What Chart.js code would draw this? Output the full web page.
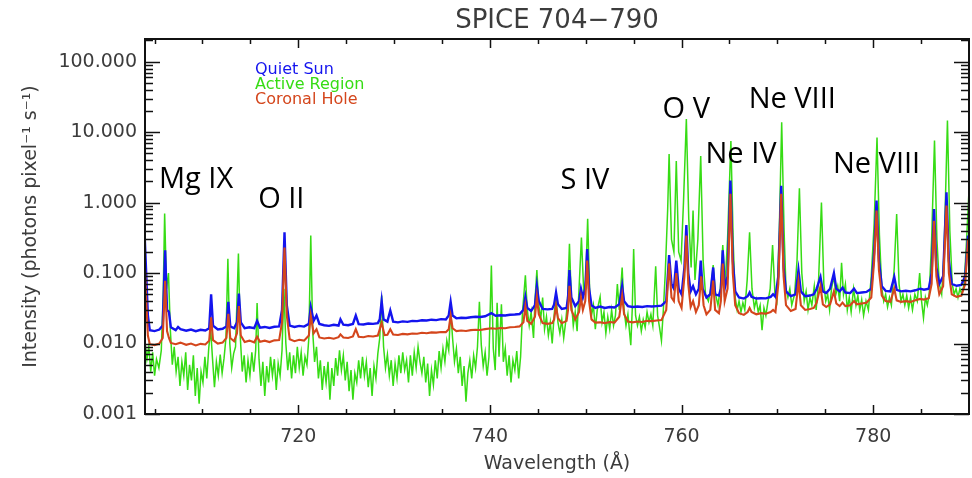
<!DOCTYPE html>
<html>
<head>
<meta charset="utf-8">
<script src="https://cdn.jsdelivr.net/npm/chart.js@4.4.1/dist/chart.umd.min.js"></script>
<style>
  html, body { margin: 0; padding: 0; background: #fff; }
  #wrap { width: 972px; height: 478px; position: relative; }
</style>
</head>
<body>
<div id="wrap"><canvas id="c" width="972" height="478"></canvas></div>
<script>
// ---------------- DATA ----------------
const chartTitle = 'SPICE 704\u2212790';
const xAxisTitle = 'Wavelength (\u00C5)';
const yAxisTitle = 'Intensity (photons pixel\u207B\u00B9 s\u207B\u00B9)';
const seriesNames = ['Quiet Sun', 'Active Region', 'Coronal Hole'];

const xMajorTicks = [720, 740, 760, 780];
const yTickValues = [0.001, 0.01, 0.1, 1, 10, 100];
const yTickLabels = ['0.001', '0.010', '0.100', '1.000', '10.000', '100.000'];

// [wavelength (Å), intensity]
const quietSun = [[703.95,0.38],[704.1,0.12],[704.3,0.025],[704.5,0.0155],[705.0,0.0150],[705.5,0.0158],[705.85,0.018],[706.1,0.21],[706.3,0.03],[706.5,0.028],[706.7,0.017],[707.2,0.0155],[707.45,0.0172],[707.7,0.0160],[708.3,0.0152],[708.8,0.0158],[709.3,0.0150],[709.8,0.0157],[710.3,0.0153],[710.7,0.0165],[710.9,0.050],[711.1,0.018],[711.6,0.0158],[712.1,0.0162],[712.5,0.0175],[712.7,0.039],[712.9,0.0175],[713.3,0.0165],[713.6,0.02],[713.8,0.051],[714.0,0.02],[714.4,0.0165],[714.9,0.0170],[715.4,0.0165],[715.7,0.021],[716.0,0.0168],[716.5,0.0172],[717.0,0.0166],[717.5,0.0173],[718.0,0.0175],[718.3,0.03],[718.56,0.38],[718.8,0.035],[719.1,0.018],[719.6,0.0172],[720.1,0.0178],[720.6,0.0174],[721.1,0.019],[721.3,0.033],[721.6,0.021],[721.9,0.025],[722.2,0.019],[722.7,0.0182],[723.2,0.0178],[723.7,0.0185],[724.2,0.0180],[724.4,0.022],[724.7,0.0185],[725.2,0.0182],[725.7,0.019],[726.0,0.025],[726.3,0.0188],[726.8,0.0186],[727.3,0.0192],[727.8,0.0190],[728.3,0.0195],[728.5,0.022],[728.7,0.040],[728.9,0.022],[729.3,0.0205],[729.6,0.0295],[729.9,0.0205],[730.4,0.0200],[730.9,0.0206],[731.4,0.0203],[731.9,0.0210],[732.4,0.0208],[732.9,0.0214],[733.4,0.0212],[733.9,0.0218],[734.4,0.0215],[734.9,0.0222],[735.4,0.0220],[735.7,0.025],[735.9,0.039],[736.1,0.025],[736.5,0.0228],[737.0,0.0232],[737.5,0.0230],[738.0,0.0236],[738.5,0.0240],[739.0,0.0238],[739.5,0.0244],[740.15,0.027],[740.6,0.0248],[741.1,0.0252],[741.6,0.0250],[742.1,0.0256],[742.6,0.0258],[743.1,0.0262],[743.5,0.030],[743.7,0.046],[743.9,0.032],[744.3,0.029],[744.7,0.035],[744.9,0.066],[745.1,0.04],[745.5,0.031],[746.0,0.0305],[746.5,0.031],[746.7,0.036],[746.9,0.053],[747.1,0.036],[747.5,0.031],[748.0,0.032],[748.15,0.045],[748.3,0.11],[748.5,0.045],[748.9,0.034],[749.3,0.04],[749.5,0.06],[749.7,0.045],[749.95,0.06],[750.15,0.22],[750.35,0.06],[750.6,0.035],[751.0,0.032],[751.5,0.0335],[752.0,0.032],[752.5,0.033],[753.0,0.0325],[753.5,0.036],[753.8,0.066],[754.0,0.04],[754.4,0.034],[754.9,0.033],[755.4,0.0335],[755.9,0.033],[756.4,0.034],[756.9,0.0335],[757.4,0.034],[757.9,0.0345],[758.4,0.04],[758.7,0.18],[758.95,0.07],[759.2,0.06],[759.45,0.15],[759.7,0.06],[760.0,0.05],[760.3,0.12],[760.5,0.48],[760.7,0.1],[760.95,0.055],[761.2,0.065],[761.5,0.05],[761.8,0.06],[762.0,0.15],[762.2,0.06],[762.6,0.045],[763.0,0.05],[763.3,0.12],[763.5,0.05],[763.9,0.048],[764.1,0.06],[764.3,0.21],[764.5,0.06],[764.8,0.09],[765.1,2.05],[765.35,0.15],[765.6,0.055],[766.0,0.045],[766.5,0.0435],[766.9,0.047],[767.1,0.053],[767.3,0.046],[767.8,0.0435],[768.3,0.044],[768.8,0.0438],[769.3,0.046],[769.55,0.05],[769.8,0.046],[770.1,0.09],[770.4,1.74],[770.65,0.12],[770.9,0.055],[771.4,0.047],[771.9,0.05],[772.2,0.11],[772.45,0.055],[772.9,0.047],[773.4,0.048],[773.8,0.05],[774.1,0.06],[774.5,0.088],[774.75,0.055],[775.1,0.052],[775.5,0.06],[775.9,0.10],[776.15,0.06],[776.5,0.055],[776.8,0.062],[777.1,0.053],[777.6,0.052],[778.0,0.06],[778.3,0.052],[778.8,0.053],[779.3,0.054],[779.8,0.06],[780.1,0.2],[780.35,1.07],[780.6,0.15],[780.9,0.065],[781.3,0.056],[781.8,0.055],[782.2,0.088],[782.45,0.058],[782.9,0.055],[783.4,0.056],[783.9,0.055],[784.4,0.057],[784.9,0.06],[785.3,0.058],[785.8,0.06],[786.1,0.1],[786.35,0.81],[786.6,0.12],[786.9,0.07],[787.3,0.09],[787.65,1.4],[787.9,0.15],[788.2,0.07],[788.7,0.066],[789.2,0.068],[789.6,0.09],[789.9,0.34],[790.1,0.2]];

const coronalHole = [[703.95,0.17],[704.1,0.05],[704.3,0.013],[704.5,0.0098],[705.0,0.0095],[705.5,0.0100],[705.85,0.012],[706.1,0.078],[706.3,0.015],[706.5,0.012],[706.7,0.0102],[707.2,0.0098],[707.7,0.0103],[708.3,0.0096],[708.8,0.0100],[709.3,0.0094],[709.8,0.0099],[710.3,0.0097],[710.7,0.011],[710.9,0.0235],[711.1,0.0112],[711.6,0.0100],[712.1,0.0103],[712.5,0.012],[712.7,0.0265],[712.9,0.012],[713.3,0.0108],[713.6,0.014],[713.8,0.034],[714.0,0.013],[714.4,0.0105],[714.9,0.0110],[715.4,0.0104],[715.7,0.0125],[716.0,0.0106],[716.5,0.0110],[717.0,0.0105],[717.5,0.0111],[718.0,0.0112],[718.3,0.02],[718.56,0.23],[718.8,0.025],[719.1,0.0115],[719.6,0.0108],[720.1,0.0113],[720.6,0.0110],[721.1,0.013],[721.3,0.025],[721.6,0.014],[721.9,0.016],[722.2,0.0122],[722.7,0.0118],[723.2,0.0121],[723.7,0.0117],[724.2,0.0123],[724.4,0.0135],[724.7,0.0122],[725.2,0.0120],[725.7,0.0126],[726.0,0.016],[726.3,0.0125],[726.8,0.0123],[727.3,0.0128],[727.8,0.0126],[728.3,0.0130],[728.7,0.0197],[729.0,0.0132],[729.3,0.0133],[729.6,0.016],[729.9,0.0134],[730.4,0.0132],[730.9,0.0137],[731.4,0.0135],[731.9,0.0139],[732.4,0.0138],[732.9,0.0142],[733.4,0.0140],[733.9,0.0144],[734.4,0.0143],[734.9,0.0146],[735.4,0.0145],[735.7,0.016],[735.9,0.025],[736.1,0.0165],[736.5,0.0150],[737.0,0.0153],[737.5,0.0151],[738.0,0.0155],[738.5,0.0157],[739.0,0.0156],[739.5,0.0160],[740.15,0.0165],[740.6,0.0162],[741.1,0.0166],[741.6,0.0165],[742.1,0.0170],[742.6,0.0172],[743.1,0.0175],[743.5,0.02],[743.7,0.034],[743.9,0.021],[744.3,0.019],[744.7,0.024],[744.9,0.046],[745.1,0.026],[745.5,0.0195],[746.0,0.019],[746.5,0.0195],[746.7,0.022],[746.9,0.034],[747.1,0.023],[747.5,0.0195],[748.0,0.021],[748.15,0.03],[748.3,0.066],[748.5,0.03],[748.9,0.022],[749.3,0.028],[749.5,0.045],[749.7,0.03],[749.95,0.04],[750.15,0.15],[750.35,0.04],[750.6,0.022],[751.0,0.0198],[751.5,0.020],[752.0,0.0195],[752.5,0.0202],[753.0,0.0198],[753.5,0.024],[753.8,0.048],[754.0,0.026],[754.4,0.0205],[754.9,0.020],[755.4,0.0205],[755.9,0.0202],[756.4,0.021],[756.9,0.0208],[757.4,0.0212],[757.9,0.0215],[758.4,0.03],[758.7,0.137],[758.95,0.045],[759.2,0.04],[759.45,0.10],[759.7,0.04],[760.0,0.032],[760.3,0.09],[760.5,0.34],[760.7,0.07],[760.95,0.033],[761.2,0.04],[761.5,0.028],[761.8,0.035],[762.05,0.09],[762.3,0.035],[762.6,0.026],[763.0,0.03],[763.3,0.078],[763.5,0.03],[763.9,0.027],[764.1,0.04],[764.3,0.137],[764.5,0.04],[764.8,0.06],[765.1,1.33],[765.35,0.1],[765.6,0.035],[766.0,0.027],[766.5,0.0255],[766.9,0.028],[767.1,0.032],[767.3,0.028],[767.8,0.026],[768.3,0.027],[768.8,0.0265],[769.3,0.028],[769.55,0.03],[769.8,0.028],[770.1,0.07],[770.4,1.33],[770.65,0.09],[770.9,0.035],[771.4,0.029],[771.9,0.031],[772.2,0.076],[772.45,0.035],[772.9,0.030],[773.4,0.031],[773.8,0.032],[774.1,0.038],[774.5,0.065],[774.75,0.036],[775.1,0.033],[775.5,0.036],[775.9,0.055],[776.15,0.037],[776.5,0.034],[776.8,0.038],[777.1,0.034],[777.6,0.035],[778.0,0.04],[778.3,0.036],[778.8,0.037],[779.3,0.038],[779.8,0.045],[780.1,0.15],[780.35,0.77],[780.6,0.11],[780.9,0.048],[781.3,0.04],[781.8,0.039],[782.2,0.06],[782.45,0.041],[782.9,0.039],[783.4,0.040],[783.9,0.039],[784.4,0.041],[784.9,0.043],[785.3,0.042],[785.8,0.044],[786.1,0.07],[786.35,0.55],[786.6,0.09],[786.9,0.05],[787.3,0.065],[787.65,0.91],[787.9,0.1],[788.2,0.05],[788.7,0.046],[789.2,0.048],[789.6,0.07],[789.9,0.30],[790.1,0.18]];

const activeRegion = [[703.95,0.012],[704.2,0.006],[704.4,0.009],[704.6,0.004],[704.8,0.0075],[705.0,0.0035],[705.2,0.006],[705.45,0.0045],[705.7,0.008],[705.9,0.05],[706.05,0.70],[706.25,0.06],[706.45,0.10],[706.65,0.015],[706.85,0.005],[707.05,0.009],[707.25,0.004],[707.45,0.0065],[707.65,0.0025],[707.85,0.0055],[708.05,0.0035],[708.25,0.0075],[708.45,0.0022],[708.65,0.005],[708.85,0.003],[709.05,0.0068],[709.25,0.0018],[709.45,0.0045],[709.65,0.0014],[709.85,0.004],[710.05,0.0028],[710.25,0.0065],[710.45,0.0032],[710.65,0.0085],[710.85,0.016],[711.05,0.006],[711.25,0.0024],[711.45,0.0055],[711.65,0.0035],[711.85,0.007],[712.05,0.0038],[712.25,0.0062],[712.45,0.012],[712.65,0.16],[712.85,0.01],[713.05,0.0045],[713.25,0.0072],[713.45,0.009],[713.75,0.19],[713.95,0.012],[714.15,0.004],[714.35,0.0068],[714.55,0.0028],[714.75,0.0058],[714.95,0.0035],[715.15,0.0075],[715.35,0.004],[715.55,0.008],[715.7,0.0375],[715.9,0.006],[716.1,0.0025],[716.3,0.0055],[716.5,0.0018],[716.7,0.0048],[716.9,0.0028],[717.1,0.0065],[717.3,0.0035],[717.5,0.006],[717.7,0.0022],[717.9,0.0052],[718.1,0.0035],[718.3,0.008],[718.5,0.06],[718.7,0.01],[718.9,0.0042],[719.1,0.0075],[719.3,0.0032],[719.5,0.0068],[719.7,0.0038],[719.9,0.009],[720.1,0.0045],[720.3,0.0075],[720.5,0.0035],[720.7,0.0065],[720.9,0.005],[721.1,0.012],[721.3,0.34],[721.5,0.015],[721.7,0.0055],[721.9,0.009],[722.1,0.0032],[722.3,0.0058],[722.5,0.0022],[722.7,0.0048],[722.9,0.0028],[723.1,0.0055],[723.3,0.0016],[723.5,0.0045],[723.7,0.0025],[723.9,0.0062],[724.1,0.0035],[724.3,0.008],[724.5,0.0042],[724.7,0.0068],[724.9,0.0030],[725.1,0.0055],[725.3,0.0021],[725.5,0.0042],[725.7,0.0016],[725.9,0.0038],[726.1,0.0028],[726.3,0.0058],[726.5,0.0032],[726.7,0.0065],[726.9,0.0035],[727.1,0.0055],[727.3,0.0024],[727.5,0.0045],[727.7,0.0018],[727.9,0.0048],[728.1,0.0032],[728.3,0.0072],[728.5,0.012],[728.7,0.048],[728.9,0.009],[729.1,0.0045],[729.3,0.007],[729.5,0.0035],[729.7,0.0058],[729.9,0.0025],[730.1,0.0052],[730.3,0.0032],[730.5,0.0068],[730.7,0.0038],[730.9,0.0075],[731.1,0.0042],[731.3,0.0058],[731.5,0.0028],[731.7,0.0068],[731.9,0.0035],[732.1,0.0075],[732.3,0.0045],[732.5,0.009],[732.7,0.0055],[732.9,0.0038],[733.1,0.0065],[733.3,0.0028],[733.5,0.0052],[733.7,0.0018],[733.9,0.0042],[734.1,0.0026],[734.3,0.0058],[734.5,0.0032],[734.7,0.0078],[734.9,0.0045],[735.1,0.0085],[735.3,0.0055],[735.5,0.011],[735.7,0.008],[735.9,0.03],[736.1,0.012],[736.3,0.0055],[736.5,0.0085],[736.7,0.0038],[736.9,0.0065],[737.1,0.0025],[737.3,0.0048],[737.5,0.0015],[737.7,0.0038],[737.9,0.0058],[738.1,0.0032],[738.3,0.0068],[738.5,0.0045],[738.7,0.009],[738.9,0.039],[739.1,0.0095],[739.3,0.0048],[739.5,0.0075],[739.7,0.0035],[739.9,0.0065],[740.15,0.128],[740.35,0.0085],[740.55,0.0042],[740.75,0.038],[740.95,0.0065],[741.2,0.036],[741.4,0.0055],[741.6,0.0085],[741.8,0.0035],[742.0,0.0068],[742.2,0.0028],[742.4,0.0058],[742.6,0.0042],[742.8,0.0078],[743.0,0.0032],[743.2,0.0065],[743.4,0.028],[743.7,0.093],[743.9,0.03],[744.1,0.018],[744.3,0.028],[744.55,0.012],[744.7,0.04],[744.9,0.11],[745.1,0.035],[745.3,0.022],[745.5,0.045],[745.7,0.016],[745.9,0.024],[746.1,0.013],[746.3,0.02],[746.5,0.01],[746.7,0.025],[746.9,0.05],[747.1,0.02],[747.3,0.014],[747.5,0.022],[747.7,0.012],[747.9,0.02],[748.1,0.04],[748.3,0.26],[748.5,0.04],[748.7,0.018],[748.9,0.028],[749.1,0.015],[749.3,0.06],[749.55,0.32],[749.8,0.05],[750.0,0.08],[750.2,0.59],[750.4,0.06],[750.6,0.025],[750.8,0.035],[751.0,0.016],[751.2,0.03],[751.5,0.046],[751.7,0.02],[751.9,0.028],[752.1,0.014],[752.3,0.024],[752.5,0.016],[752.7,0.03],[752.9,0.018],[753.1,0.025],[753.3,0.07],[753.5,0.03],[753.8,0.12],[754.0,0.03],[754.2,0.018],[754.4,0.026],[754.7,0.0095],[754.85,0.03],[755.0,0.22],[755.2,0.025],[755.4,0.018],[755.6,0.024],[755.8,0.015],[756.0,0.022],[756.2,0.017],[756.4,0.028],[756.6,0.02],[756.8,0.026],[757.0,0.018],[757.3,0.125],[757.5,0.025],[757.7,0.017],[757.9,0.011],[758.1,0.03],[758.3,0.1],[758.55,0.8],[758.7,4.9],[758.95,0.3],[759.2,0.2],[759.45,3.9],[759.7,0.2],[759.95,0.15],[760.2,1.0],[760.5,15.4],[760.75,0.6],[761.0,0.12],[761.2,0.77],[761.4,0.08],[761.7,0.3],[762.0,4.6],[762.25,0.15],[762.5,0.05],[762.8,0.04],[763.05,0.06],[763.3,0.13],[763.55,0.05],[763.8,0.035],[764.05,0.06],[764.3,0.25],[764.55,0.07],[764.8,0.3],[765.15,7.5],[765.4,0.25],[765.6,0.045],[765.8,0.03],[766.0,0.04],[766.2,0.028],[766.4,0.038],[766.6,0.03],[766.85,0.08],[767.1,0.38],[767.35,0.06],[767.6,0.032],[767.8,0.042],[768.0,0.028],[768.2,0.035],[768.4,0.0155],[768.6,0.032],[768.8,0.025],[769.0,0.038],[769.25,0.06],[769.5,0.25],[769.75,0.05],[769.95,0.04],[770.2,0.4],[770.45,13.8],[770.7,0.4],[770.9,0.06],[771.1,0.045],[771.3,0.06],[771.5,0.035],[771.8,0.05],[772.05,0.15],[772.3,1.6],[772.55,0.1],[772.8,0.04],[773.0,0.055],[773.2,0.03],[773.4,0.045],[773.6,0.035],[773.85,0.065],[774.05,0.03],[774.3,0.08],[774.6,1.0],[774.85,0.07],[775.05,0.04],[775.25,0.05],[775.45,0.03],[775.65,0.06],[775.9,0.09],[776.1,0.05],[776.3,0.065],[776.5,0.04],[776.7,0.14],[776.9,0.05],[777.1,0.07],[777.3,0.03],[777.5,0.045],[777.7,0.028],[777.95,0.06],[778.2,0.035],[778.4,0.048],[778.6,0.03],[778.8,0.042],[779.0,0.025],[779.25,0.04],[779.5,0.03],[779.8,0.09],[780.1,0.5],[780.4,8.4],[780.65,0.35],[780.9,0.06],[781.1,0.04],[781.3,0.05],[781.5,0.033],[781.7,0.045],[781.9,0.035],[782.2,0.12],[782.45,0.69],[782.7,0.07],[782.9,0.04],[783.1,0.05],[783.3,0.035],[783.5,0.048],[783.7,0.032],[783.9,0.045],[784.1,0.03],[784.35,0.05],[784.6,0.04],[784.85,0.1],[785.05,0.04],[785.25,0.023],[785.45,0.045],[785.65,0.035],[785.85,0.05],[786.1,0.3],[786.4,7.6],[786.65,0.3],[786.9,0.07],[787.15,0.05],[787.4,0.2],[787.75,14.6],[788.0,0.4],[788.25,0.07],[788.45,0.05],[788.65,0.06],[788.85,0.045],[789.05,0.06],[789.25,0.05],[789.5,0.07],[789.75,0.3],[790.0,1.5]];

// Line identifications: text, anchored at (wavelength, intensity) of the text's left baseline
const lineLabels = ['Mg IX', 'O II', 'S IV', 'O V', 'Ne VIII', 'Ne IV', 'Ne VIII'];
const lineLabelWave = [705.46, 715.81, 747.36, 758.02, 767.0, 762.5, 775.8];
const lineLabelInt = [1.63, 0.85, 1.58, 16.1, 22.3, 3.69, 2.67];

// ---------------- STYLE ----------------
const BLUE = '#1414ee', GREEN = '#36dc14', RED = '#d4461c';
const TXT = '#3c3c3c';
const AXFONT = 'DejaVu Sans';

const toXY = arr => arr.map(p => ({x: p[0], y: p[1]}));

const decor = {
  id: 'decor',
  afterDatasetsDraw(chart) {
    const {ctx, chartArea: a, scales: {x, y}} = chart;
    ctx.save();
    ctx.strokeStyle = '#111';
    ctx.lineWidth = 1.5;
    const seg = (x1, y1, x2, y2) => { ctx.beginPath(); ctx.moveTo(x1, y1); ctx.lineTo(x2, y2); ctx.stroke(); };
    // x ticks (inward, bottom and top)
    for (let v = 705; v <= 785; v += 5) {
      const px = Math.round(x.getPixelForValue(v)) + 0.5;
      const len = xMajorTicks.includes(v) ? 9 : 5;
      seg(px, a.bottom, px, a.bottom - len);
      seg(px, a.top, px, a.top + len);
    }
    // y ticks (inward, left and right)
    for (const d of yTickValues) {
      for (let m = 1; m <= 9; m++) {
        const v = d * m;
        if (v > y.max || v < y.min) continue;
        const py = Math.round(y.getPixelForValue(v)) + 0.5;
        const len = m === 1 ? 15 : 8;
        seg(a.left, py, a.left + len, py);
        seg(a.right, py, a.right - len, py);
      }
    }
    // frame
    ctx.lineWidth = 2;
    ctx.strokeRect(a.left, a.top, a.right - a.left, a.bottom - a.top);

    // title
    ctx.fillStyle = TXT;
    ctx.font = '26px "' + AXFONT + '"';
    ctx.textAlign = 'center';
    ctx.textBaseline = 'alphabetic';
    ctx.fillText(chartTitle, (a.left + a.right) / 2, 28);

    // legend (text only)
    ctx.textAlign = 'left';
    ctx.font = '16px "' + AXFONT + '"';
    const cols = [BLUE, GREEN, RED];
    seriesNames.forEach((n, i) => {
      ctx.fillStyle = cols[i];
      ctx.fillText(n, a.left + 110, a.top + 35 + i * 15);
    });

    // line identifications
    ctx.fillStyle = '#000';
    ctx.font = '29px "Open Sans"';
    lineLabels.forEach((t, i) => {
      ctx.fillText(t, x.getPixelForValue(lineLabelWave[i]), y.getPixelForValue(lineLabelInt[i]));
    });
    ctx.restore();
  }
};

new Chart(document.getElementById('c'), {
  type: 'line',
  data: {
    datasets: [
      {label: seriesNames[2], data: toXY(coronalHole), borderColor: RED, borderWidth: 2.1, order: 0},
      {label: seriesNames[0], data: toXY(quietSun), borderColor: BLUE, borderWidth: 2.4, order: 1},
      {label: seriesNames[1], data: toXY(activeRegion), borderColor: GREEN, borderWidth: 1.5, order: 2}
    ]
  },
  options: {
    responsive: false,
    animation: false,
    parsing: true,
    elements: {point: {radius: 0, hoverRadius: 0}, line: {tension: 0, fill: false}},
    layout: {padding: {top: 39, right: 3, left: 0, bottom: 0}},
    plugins: {legend: {display: false}, title: {display: false}, tooltip: {enabled: false}},
    scales: {
      x: {
        type: 'linear', min: 704, max: 790,
        afterBuildTicks: ax => { ax.ticks = xMajorTicks.map(v => ({value: v})); },
        afterFit: s => { s.height = 64; },
        grid: {display: false, drawTicks: false},
        border: {display: false},
        ticks: {autoSkip: false, maxRotation: 0, padding: 12, color: TXT, font: {family: AXFONT, size: 19}},
        title: {display: true, text: xAxisTitle, color: TXT, font: {family: AXFONT, size: 19}, padding: {top: 0, bottom: 3}}
      },
      y: {
        type: 'logarithmic', min: 0.001, max: 210,
        afterBuildTicks: ax => { ax.ticks = yTickValues.map(v => ({value: v})); },
        afterFit: s => { s.width = 145; },
        grid: {display: false, drawTicks: false},
        border: {display: false},
        ticks: {autoSkip: false, padding: 8, color: TXT, font: {family: AXFONT, size: 19},
          callback: v => { const i = yTickValues.findIndex(t => Math.abs(t - v) / t < 1e-6); return i >= 0 ? yTickLabels[i] : ''; }},
        title: {display: true, text: yAxisTitle, color: TXT, font: {family: AXFONT, size: 19}, padding: {top: 20, bottom: 0}}
      }
    }
  },
  plugins: [decor]
});
</script>
</body>
</html>
